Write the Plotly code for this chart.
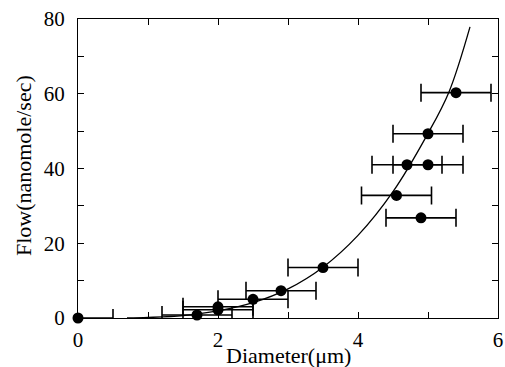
import plotly.graph_objects as go

# data points
diam = [0.0, 1.7, 2.0, 2.0, 2.5, 2.9, 3.5, 4.55, 4.7, 5.0, 5.0, 4.9, 5.4]
flow = [0.0, 0.8, 2.2, 3.0, 5.0, 7.3, 13.5, 32.8, 41.0, 41.0, 49.3, 26.8, 60.3]
diam_err = [0.5, 0.5, 0.5, 0.5, 0.5, 0.5, 0.5, 0.5, 0.5, 0.5, 0.5, 0.5, 0.5]

# fitted curve
curve_x = [0.7, 1.0, 1.5, 2.0, 2.5, 3.0, 3.5, 4.0, 4.5, 5.0, 5.3, 5.6]
curve_y = [0.0, 0.15, 0.65, 1.9, 4.1, 7.8, 13.6, 22.1, 33.8, 49.4, 60.5, 77.9]

x_tickvals = [0, 1, 2, 3, 4, 5, 6]
x_ticktext = ["0", "", "2", "", "4", "", "6"]
y_tickvals = [0, 10, 20, 30, 40, 50, 60, 70, 80]
y_ticktext = ["0", "", "20", "", "40", "", "60", "", "80"]

FONT = "Liberation Serif, Times New Roman, serif"

fig = go.Figure()
fig.add_trace(go.Scatter(
    x=curve_x, y=curve_y, mode="lines",
    line=dict(color="black", width=1.3, shape="spline"),
    showlegend=False, hoverinfo="skip"))
fig.add_trace(go.Scatter(
    x=diam, y=flow, mode="markers",
    marker=dict(color="rgba(0,0,0,0)", size=11),
    error_x=dict(type="data", array=diam_err, visible=True,
                 color="black", thickness=1.6, width=9),
    cliponaxis=True, showlegend=False))
fig.add_trace(go.Scatter(
    x=diam, y=flow, mode="markers",
    marker=dict(color="black", size=11),
    cliponaxis=False, showlegend=False))

axis_common = dict(
    showgrid=False, zeroline=False, showline=True, linecolor="black",
    linewidth=1.3, mirror="ticks", ticks="inside", ticklen=6,
    tickwidth=1.3, tickcolor="black", automargin=False,
    tickfont=dict(family=FONT, size=21, color="black"),
)
fig.update_xaxes(range=[0, 6], tickmode="array", tickvals=x_tickvals,
                 ticktext=x_ticktext, ticklabelstandoff=3, **axis_common)
fig.update_yaxes(range=[0, 80], tickmode="array", tickvals=y_tickvals,
                 ticktext=y_ticktext, ticklabelstandoff=8,
                 **axis_common)

fig.add_annotation(text="Diameter(\u03bcm)", xref="paper", yref="paper",
                   x=0.5, y=0, yshift=-37, showarrow=False,
                   xanchor="center", yanchor="middle",
                   font=dict(family=FONT, size=22, color="black"))
fig.add_annotation(text="Flow(nanomole/sec)", xref="paper", yref="paper",
                   x=0, xshift=-55, y=0.508, textangle=-90, showarrow=False,
                   xanchor="center", yanchor="middle",
                   font=dict(family=FONT, size=22, color="black"))

fig.update_layout(
    width=505, height=367,
    margin=dict(l=78, r=7, t=19, b=49, autoexpand=False),
    paper_bgcolor="white", plot_bgcolor="white",
)
fig.write_html(
    "out.html",
    config={"displayModeBar": False},
    post_script="document.body.style.margin='0px';"
                "document.body.style.overflow='hidden';",
)
